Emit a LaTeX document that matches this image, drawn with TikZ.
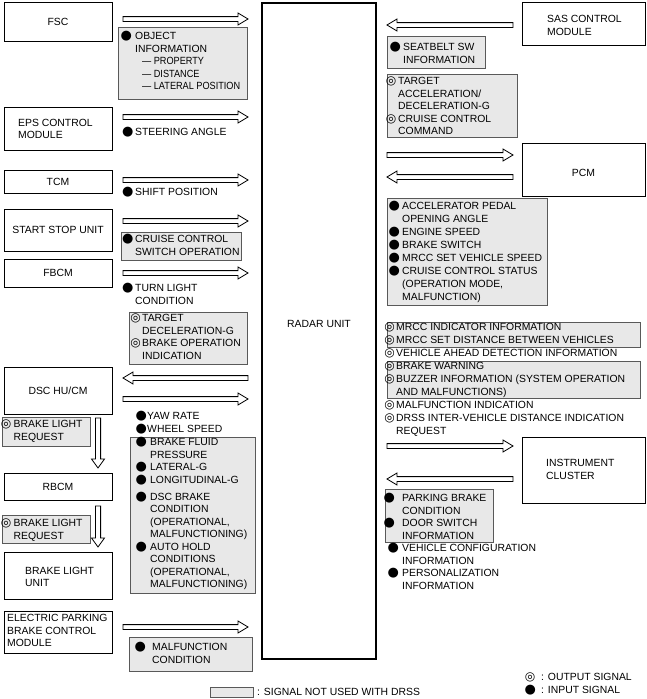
\documentclass[tikz,border=0pt]{standalone}
\usepackage{fontspec}
\usepackage{graphicx}
\setmainfont{Liberation Sans}
\newfontfamily\symfont{DejaVu Sans}
\usetikzlibrary{calc}
\newcommand\insym{{\fontsize{13}{13}\selectfont\symfont ●}}
\newcommand\outsym{{\fontsize{12}{12}\selectfont\symfont ◎}}
\newcommand\IN[1][16pt]{\llap{\makebox[#1][c]{\insym}}}
\newcommand\OUT[1][12pt]{\llap{\makebox[#1][c]{\outsym}}}
\newcommand\blk[1]{\begin{tabular}[t]{@{}l@{}}#1\end{tabular}}
\newcommand\subdash[1]{\hspace{7pt}\scalebox{0.88}[1]{— #1}}
\newcommand\rarr[2]{\draw[barr] let \p1=(#1),\p2=(#2) in
  (\x1,\y1+2.4pt) -- (\x2-10pt,\y1+2.4pt) -- (\x2-10pt,\y1+6pt) -- (\x2,\y1)
  -- (\x2-10pt,\y1-6pt) -- (\x2-10pt,\y1-2.4pt) -- (\x1,\y1-2.4pt) -- cycle;}
\newcommand\larr[2]{\draw[barr] let \p1=(#1),\p2=(#2) in
  (\x1,\y1+2.4pt) -- (\x2+10pt,\y1+2.4pt) -- (\x2+10pt,\y1+6pt) -- (\x2,\y1)
  -- (\x2+10pt,\y1-6pt) -- (\x2+10pt,\y1-2.4pt) -- (\x1,\y1-2.4pt) -- cycle;}
\newcommand\darr[2]{\draw[barr] let \p1=(#1),\p2=(#2) in
  (\x1+2.6pt,\y1) -- (\x1+2.6pt,\y2+9pt) -- (\x1+6.5pt,\y2+9pt) -- (\x1,\y2)
  -- (\x1-6.5pt,\y2+9pt) -- (\x1-2.6pt,\y2+9pt) -- (\x1-2.6pt,\y1) -- cycle;}
\tikzset{
  every node/.style={font=\fontsize{10.4}{12.5}\selectfont, inner sep=0pt},
  unit/.style={draw, line width=0.8pt, fill=white},
  radarbox/.style={draw, line width=1.1pt, fill=white},
  gbox/.style={draw=black!65, line width=0.6pt, fill=black!9},
  lbl/.style={anchor=base west},
  lft/.style={anchor=west, align=left},
  barr/.style={draw, line width=0.8pt, fill=white, line join=miter},
}
\begin{document}
\begin{tikzpicture}[x=1pt,y=-1pt]
\useasboundingbox (0,0) rectangle (646,699);
% radar unit
\node[radarbox, minimum width=114, minimum height=656] (radar) at (319,331) {};
\node (radart) at (319,324) {RADAR UNIT};
% left units
\node[unit, minimum width=108, minimum height=39] (fsc) at (58,21.5) {FSC};
\node[unit, minimum width=108, minimum height=43] (eps) at (58,128.5) {};
\node[lft] (epst) at (18,129) {EPS CONTROL\\MODULE};
\node[unit, minimum width=108, minimum height=23] (tcm) at (58,181.5) {TCM};
\node[unit, minimum width=108, minimum height=42] (ssu) at (58,230) {START STOP UNIT};
\node[unit, minimum width=108, minimum height=28] (fbcm) at (58,273) {FBCM};
\node[unit, minimum width=108, minimum height=47] (dsc) at (58,390.5) {DSC HU/CM};
\node[unit, minimum width=108, minimum height=27] (rbcm) at (58,486.5) {RBCM};
\node[unit, minimum width=108, minimum height=47] (blu) at (58,575.5) {};
\node[lft] (blut) at (25,577) {BRAKE LIGHT\\UNIT};
\node[unit, minimum width=108, minimum height=42] (epb) at (58,632) {};
\node[lft] (epbt) at (7,630.5) {ELECTRIC PARKING\\BRAKE CONTROL\\MODULE};
% right units
\node[unit, minimum width=123, minimum height=43] (sas) at (583.5,23.5) {};
\node[lft] (sast) at (547,25.5) {SAS CONTROL\\MODULE};
\node[unit, minimum width=123, minimum height=53] (pcm) at (583.5,169.5) {};
\node (pcmt) at (583.5,173) {PCM};
\node[unit, minimum width=123, minimum height=66] (ic) at (583.5,470) {};
\node[lft] (ict) at (546,469.5) {INSTRUMENT\\CLUSTER};
% gray boxes
\node[gbox, minimum width=129, minimum height=72] (g1) at (182.5,63) {};
\node[gbox, minimum width=120, minimum height=28] (g2) at (181,246) {};
\node[gbox, minimum width=118, minimum height=52] (g3) at (188,338) {};
\node[gbox, minimum width=88, minimum height=29] (g4) at (46,431.5) {};
\node[gbox, minimum width=88, minimum height=28] (g5) at (46,529) {};
\node[gbox, minimum width=125, minimum height=156] (g6) at (192.5,515) {};
\node[gbox, minimum width=123, minimum height=34] (g7) at (190.5,654) {};
\node[gbox, minimum width=98, minimum height=32] (r1) at (436,52) {};
\node[gbox, minimum width=130, minimum height=63] (r2) at (452,105.5) {};
\node[gbox, minimum width=160, minimum height=107] (r3) at (467,251.5) {};
\node[gbox, minimum width=253, minimum height=25] (r4) at (513.5,334.5) {};
\node[gbox, minimum width=253, minimum height=37] (r5) at (513.5,379.5) {};
\node[gbox, minimum width=108, minimum height=53] (r6) at (439,515.5) {};
\node[gbox, minimum width=43, minimum height=10] (leg) at (231.5,692) {};
% left texts
\node[lbl] (t1) at (135,39.7) {\blk{\IN[18pt]OBJECT\\INFORMATION\\\subdash{PROPERTY}\\\subdash{DISTANCE}\\\subdash{LATERAL POSITION}}};
\node[lbl] (t2) at (135,135.7) {\IN[15pt]STEERING ANGLE};
\node[lbl] (t3) at (135,195.7) {\IN[15pt]SHIFT POSITION};
\node[lbl] (t4) at (135,242.7) {\blk{\IN[15pt]CRUISE CONTROL\\SWITCH OPERATION}};
\node[lbl] (t5) at (135,291.7) {\blk{\IN[15pt]TURN LIGHT\\CONDITION}};
\node[lbl] (t6) at (142,321.7) {\blk{\OUT[13pt]TARGET\\DECELERATION-G\\\OUT[13pt]BRAKE OPERATION\\INDICATION}};
\node[lbl] (t7) at (147,419.7) {\blk{\IN[12pt]YAW RATE\\\IN[12pt]WHEEL SPEED}};
\node[lbl] (t8) at (150,445.7) {\blk{\IN[18pt]BRAKE FLUID\\PRESSURE\\\IN[18pt]LATERAL-G\\\IN[18pt]LONGITUDINAL-G\\[4.5pt]\IN[18pt]DSC BRAKE\\CONDITION\\(OPERATIONAL,\\MALFUNCTIONING)\\\IN[18pt]AUTO HOLD\\CONDITIONS\\(OPERATIONAL,\\MALFUNCTIONING)}};
\node[lbl] (t9) at (13.5,427.7) {\blk{\OUT[15pt]BRAKE LIGHT\\REQUEST}};
\node[lbl] (t10) at (13.5,526.7) {\blk{\OUT[15pt]BRAKE LIGHT\\REQUEST}};
\node[lbl] (t11) at (152,650.7) {\blk{\IN[24pt]MALFUNCTION\\CONDITION}};
% right texts
\node[lbl] (u1) at (403,50.7) {\blk{\IN[16pt]SEATBELT SW\\INFORMATION}};
\node[lbl] (u2) at (398,84.7) {\blk{\OUT[14pt]TARGET\\ACCELERATION/\\DECELERATION-G\\\OUT[14pt]CRUISE CONTROL\\COMMAND}};
\node[lbl, font=\fontsize{10.4}{13}\selectfont] (u3) at (402,209.7) {\blk{\IN[16pt]ACCELERATOR PEDAL\\OPENING ANGLE\\\IN[16pt]ENGINE SPEED\\\IN[16pt]BRAKE SWITCH\\\IN[16pt]MRCC SET VEHICLE SPEED\\\IN[16pt]CRUISE CONTROL STATUS\\(OPERATION MODE,\\MALFUNCTION)}};
\node[lbl, font=\fontsize{10.4}{13}\selectfont] (u4) at (396,330.7) {\blk{\OUT[13pt]MRCC INDICATOR INFORMATION\\\OUT[13pt]MRCC SET DISTANCE BETWEEN VEHICLES\\\OUT[13pt]VEHICLE AHEAD DETECTION INFORMATION\\\OUT[13pt]BRAKE WARNING\\\OUT[13pt]BUZZER INFORMATION (SYSTEM OPERATION\\AND MALFUNCTIONS)\\\OUT[13pt]MALFUNCTION INDICATION\\\OUT[13pt]DRSS INTER-VEHICLE DISTANCE INDICATION\\REQUEST}};
\node[lbl] (u5) at (402,501.7) {\blk{\IN[26pt]PARKING BRAKE\\CONDITION\\\IN[26pt]DOOR SWITCH\\INFORMATION}};
\node[lbl] (u6) at (402,551.7) {\blk{\IN[18pt]VEHICLE CONFIGURATION\\INFORMATION\\\IN[18pt]PERSONALIZATION\\INFORMATION}};
% legend
\node[lbl] (lg1) at (541,680.2) {\OUT[22pt]: OUTPUT SIGNAL};
\node[lbl] (lg2) at (541,693.2) {\IN[22pt]: INPUT SIGNAL};
\node[lbl] (lg3) at (257,695.7) {: SIGNAL NOT USED WITH DRSS};
% arrow end points
\coordinate (a1s) at (123,19);  \coordinate (a1e) at (248,19);
\coordinate (a2s) at (123,117); \coordinate (a2e) at (248,117);
\coordinate (a3s) at (123,180); \coordinate (a3e) at (248,180);
\coordinate (a4s) at (123,221); \coordinate (a4e) at (248,221);
\coordinate (a5s) at (123,273); \coordinate (a5e) at (248,273);
\coordinate (a6s) at (248,378); \coordinate (a6e) at (123,378);
\coordinate (a7s) at (123,399); \coordinate (a7e) at (248,399);
\coordinate (a8s) at (123,627); \coordinate (a8e) at (248,627);
\coordinate (d1s) at (98,418);  \coordinate (d1e) at (98,468);
\coordinate (d2s) at (98,506);  \coordinate (d2e) at (98,547);
\coordinate (b1s) at (513,25);  \coordinate (b1e) at (387,25);
\coordinate (b2s) at (387,155); \coordinate (b2e) at (513,155);
\coordinate (b3s) at (513,177); \coordinate (b3e) at (387,177);
\coordinate (b4s) at (387,446); \coordinate (b4e) at (513,446);
\coordinate (b5s) at (513,479); \coordinate (b5e) at (387,479);
\rarr{a1s}{a1e} \rarr{a2s}{a2e} \rarr{a3s}{a3e} \rarr{a4s}{a4e}
\rarr{a5s}{a5e} \larr{a6s}{a6e} \rarr{a7s}{a7e} \rarr{a8s}{a8e}
\darr{d1s}{d1e} \darr{d2s}{d2e}
\larr{b1s}{b1e} \rarr{b2s}{b2e} \larr{b3s}{b3e} \rarr{b4s}{b4e} \larr{b5s}{b5e}
\end{tikzpicture}
\end{document}
